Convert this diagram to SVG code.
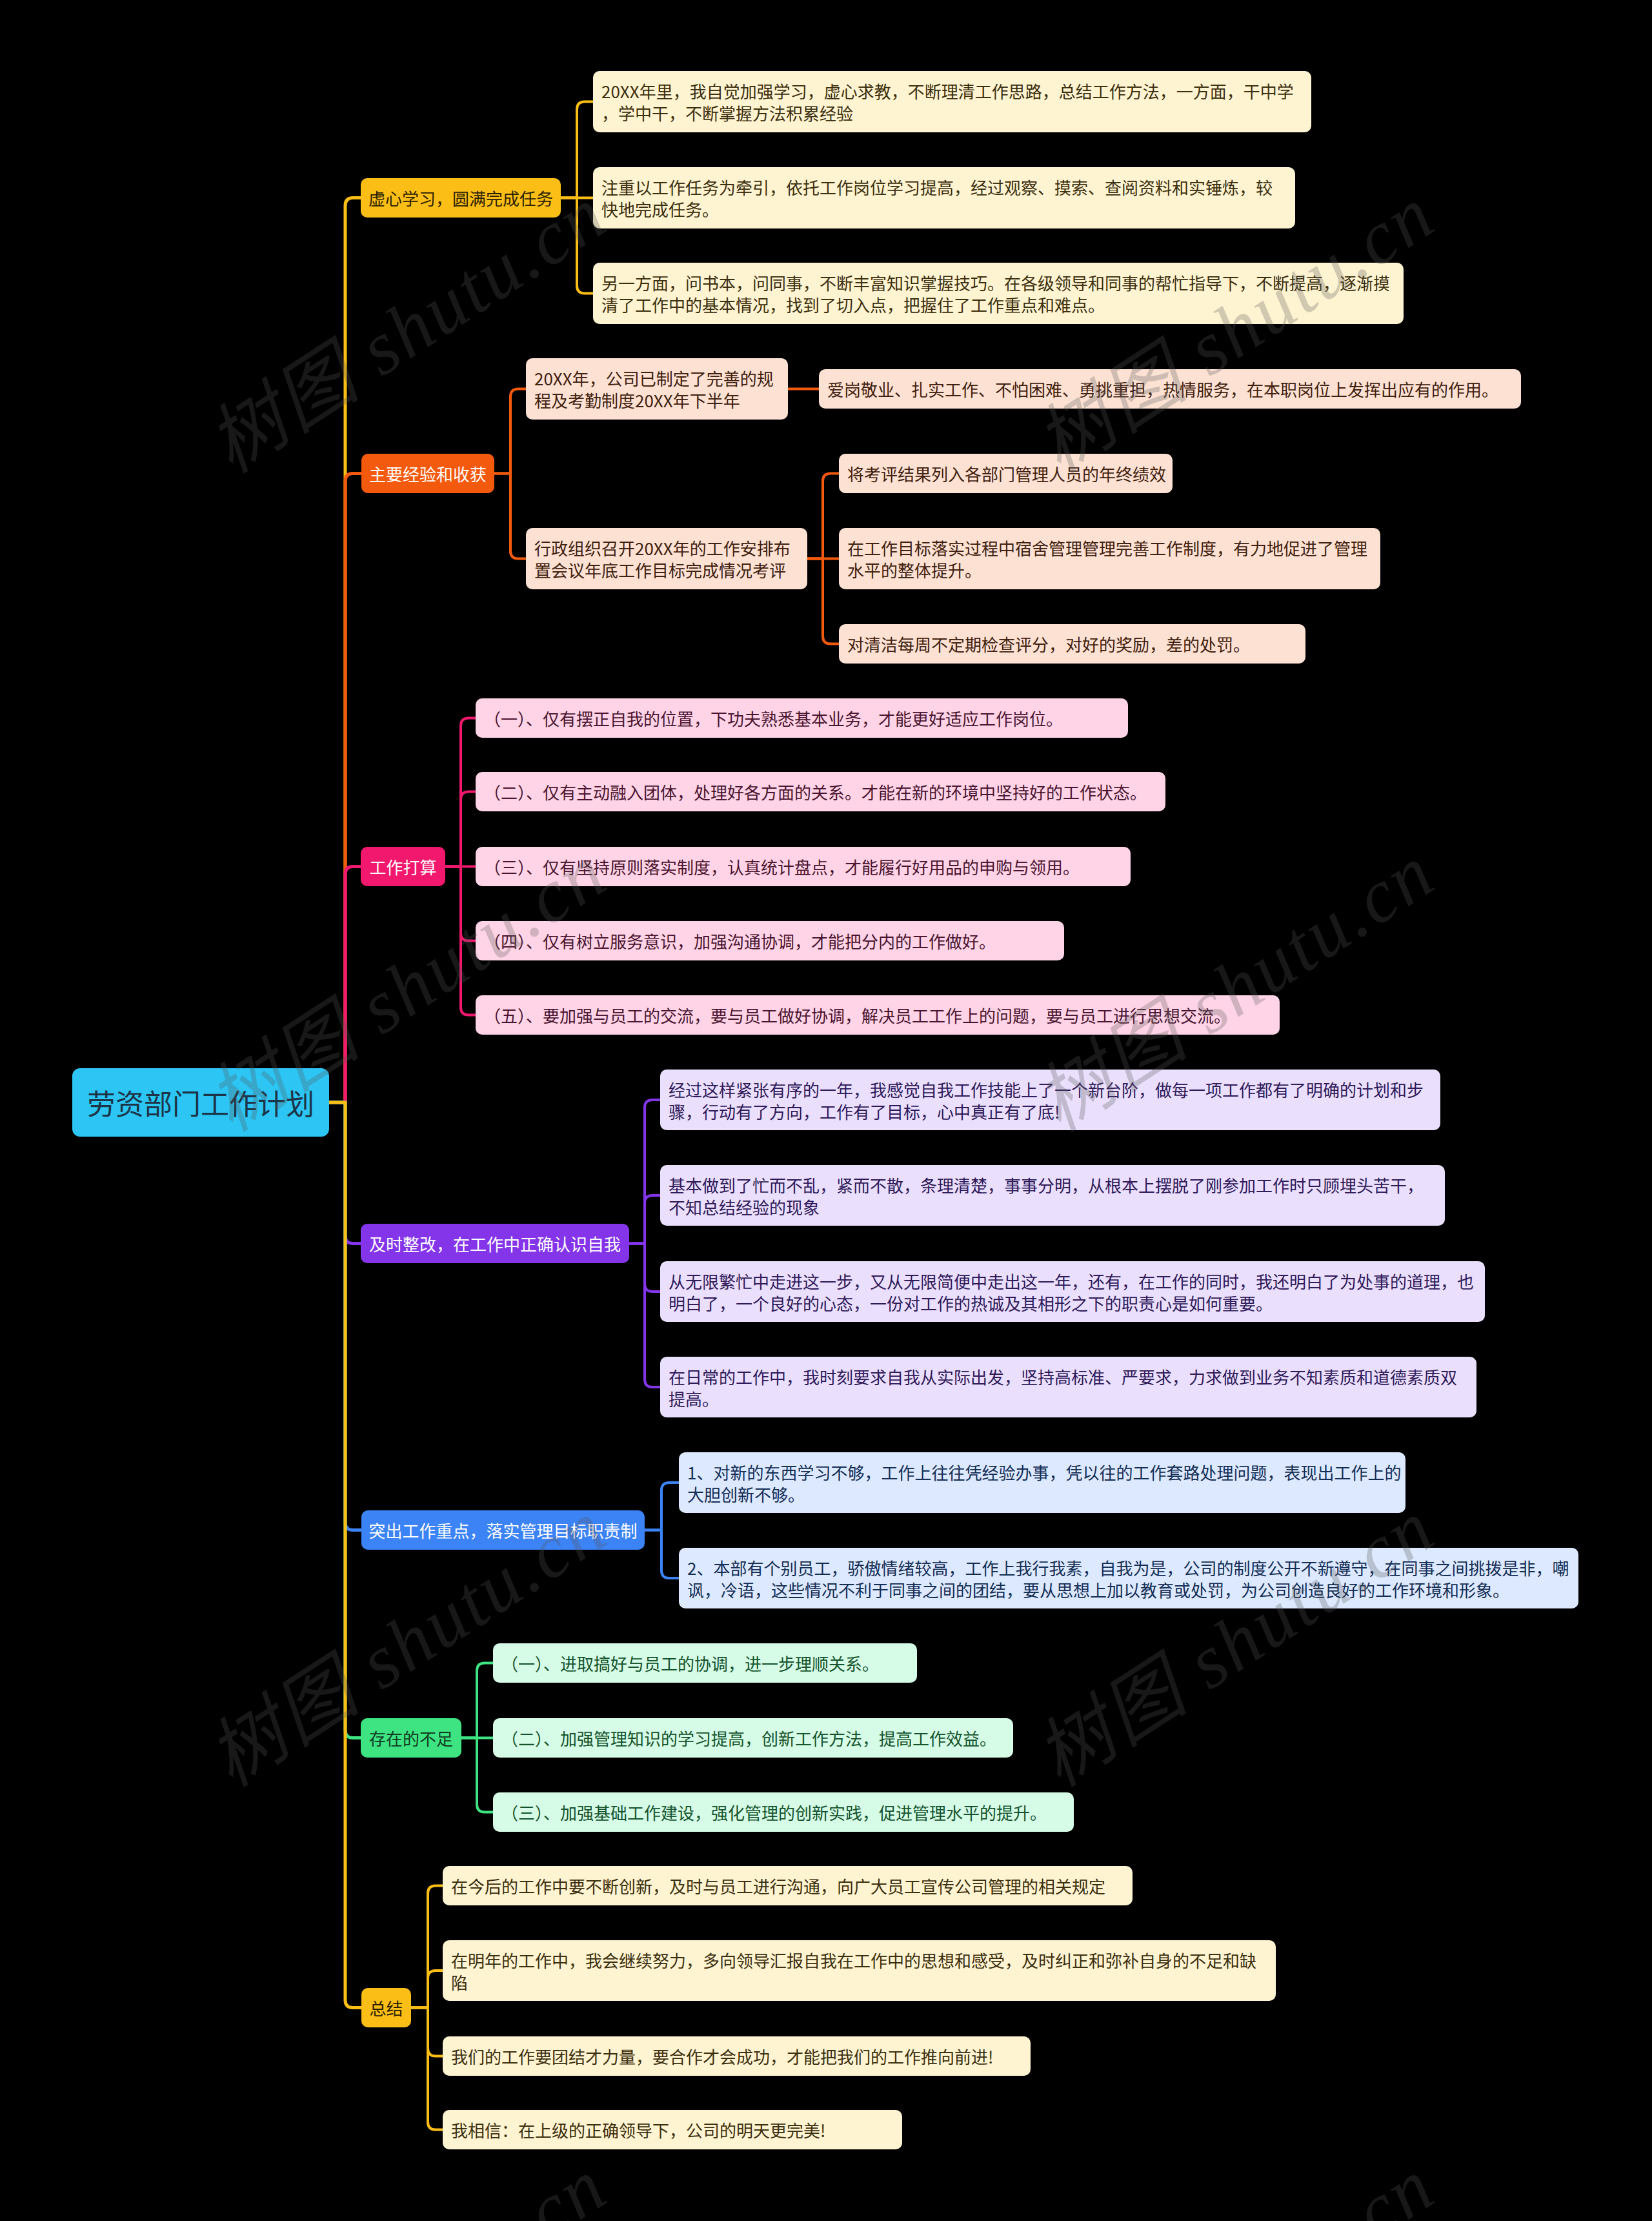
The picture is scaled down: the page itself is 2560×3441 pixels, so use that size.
<svg xmlns="http://www.w3.org/2000/svg" width="2560" height="3441" viewBox="0 0 2560 3441">
<style>
text{font-family:"Noto Sans CJK SC","Noto Sans",sans-serif;font-size:26px;dominant-baseline:central}
.c path{fill:none;stroke-linecap:round;stroke-linejoin:round}
.t1 path{stroke-width:5}
.t2 path{stroke-width:4}
.amber{stroke:#FBBE17}
.orange{stroke:#F45A0E}
.pink{stroke:#F2186E}
.purple{stroke:#8435E9}
.blue{stroke:#3C83F5}
.green{stroke:#3EE382}
.mid{text-anchor:middle}
.wm text{font-family:"Liberation Serif","Noto Sans CJK SC",serif;font-style:italic;font-size:118px;fill:#555;fill-opacity:0.28;dominant-baseline:auto}
</style>
<rect x="0" y="0" width="2560" height="3441" fill="#000"/>

<g id="connectors" class="c">
  <g class="t2 amber">
    <path d="M869,306.5 H894 V169.5 Q894,157.5 906,157.5 H919"/>
    <path d="M869,306.5 H919"/>
    <path d="M869,306.5 H894 V442.5 Q894,454.5 906,454.5 H919"/>
  </g>
  <g class="t2 orange">
    <path d="M766,733.5 H791 V614.5 Q791,602.5 803,602.5 H815"/>
    <path d="M766,733.5 H791 V853.5 Q791,865.5 803,865.5 H815"/>
    <path d="M1221,602.5 H1269"/>
    <path d="M1251,865.5 H1275 V745.5 Q1275,733.5 1287,733.5 H1300"/>
    <path d="M1251,865.5 H1300"/>
    <path d="M1251,865.5 H1275 V985.5 Q1275,997.5 1287,997.5 H1300"/>
  </g>
  <g class="t2 pink">
    <path d="M690,1342.5 H714 V1124.5 Q714,1112.5 726,1112.5 H737"/>
    <path d="M690,1342.5 H714 V1238.5 Q714,1226.5 726,1226.5 H737"/>
    <path d="M690,1342.5 H737"/>
    <path d="M690,1342.5 H714 V1445.5 Q714,1457.5 726,1457.5 H737"/>
    <path d="M690,1342.5 H714 V1560.5 Q714,1572.5 726,1572.5 H737"/>
  </g>
  <g class="t2 purple">
    <path d="M975,1926.5 H999 V1716 Q999,1704 1011,1704 H1023"/>
    <path d="M975,1926.5 H999 V1864 Q999,1852 1011,1852 H1023"/>
    <path d="M975,1926.5 H999 V1989 Q999,2001 1011,2001 H1023"/>
    <path d="M975,1926.5 H999 V2137 Q999,2149 1011,2149 H1023"/>
  </g>
  <g class="t2 blue">
    <path d="M999,2370.5 H1025 V2309 Q1025,2297 1037,2297 H1052"/>
    <path d="M999,2370.5 H1025 V2433 Q1025,2445 1037,2445 H1052"/>
  </g>
  <g class="t2 green">
    <path d="M715,2692.5 H739 V2588.5 Q739,2576.5 751,2576.5 H764"/>
    <path d="M715,2692.5 H764"/>
    <path d="M715,2692.5 H739 V2795.5 Q739,2807.5 751,2807.5 H764"/>
  </g>
  <g class="t2 amber">
    <path d="M637,3110.5 H663 V2933.5 Q663,2921.5 675,2921.5 H686"/>
    <path d="M637,3110.5 H663 V3065 Q663,3053 675,3053 H686"/>
    <path d="M637,3110.5 H663 V3173.5 Q663,3185.5 675,3185.5 H686"/>
    <path d="M637,3110.5 H663 V3287.5 Q663,3299.5 675,3299.5 H686"/>
  </g>
  <g class="t1">
    <path class="amber" d="M510,1708 H535 V318.5 Q535,306.5 547,306.5 H559"/>
    <path class="orange" d="M510,1708 H535 V745.5 Q535,733.5 547,733.5 H560"/>
    <path class="pink" d="M510,1708 H535 V1354.5 Q535,1342.5 547,1342.5 H559"/>
    <path class="purple" d="M510,1708 H535 V1914.5 Q535,1926.5 547,1926.5 H559"/>
    <path class="blue" d="M510,1708 H535 V2358.5 Q535,2370.5 547,2370.5 H560"/>
    <path class="green" d="M510,1708 H535 V2680.5 Q535,2692.5 547,2692.5 H559"/>
    <path class="amber" d="M510,1708 H535 V3098.5 Q535,3110.5 547,3110.5 H560"/>
  </g>
</g>

<g id="root">
  <rect x="112" y="1655" width="398" height="106" rx="12" fill="#2CC5F4"/>
  <text class="mid" x="311" y="1708" style="font-size:44px" fill="#1b3447">劳资部门工作计划</text>
</g>

<g id="b1">
  <rect x="559" y="276" width="310" height="61" rx="10" fill="#FBBE17"/>
  <text class="mid" x="714" y="306.5" fill="#2b2100">虚心学习，圆满完成任务</text>
</g>
<g id="b1-1">
  <rect x="919" y="110" width="1113" height="95" rx="10" fill="#FFF4D2"/>
  <text x="932" y="140.5" fill="#3b2f0e">20XX年里，我自觉加强学习，虚心求教，不断理清工作思路，总结工作方法，一方面，干中学</text>
  <text x="932" y="174.5" fill="#3b2f0e">，学中干，不断掌握方法积累经验</text>
</g>
<g id="b1-2">
  <rect x="919" y="259" width="1088" height="95" rx="10" fill="#FFF4D2"/>
  <text x="932" y="289.5" fill="#3b2f0e">注重以工作任务为牵引，依托工作岗位学习提高，经过观察、摸索、查阅资料和实锤炼，较</text>
  <text x="932" y="323.5" fill="#3b2f0e">快地完成任务。</text>
</g>
<g id="b1-3">
  <rect x="919" y="407" width="1256" height="95" rx="10" fill="#FFF4D2"/>
  <text x="932" y="437.5" fill="#3b2f0e">另一方面，问书本，问同事，不断丰富知识掌握技巧。在各级领导和同事的帮忙指导下，不断提高，逐渐摸</text>
  <text x="932" y="471.5" fill="#3b2f0e">清了工作中的基本情况，找到了切入点，把握住了工作重点和难点。</text>
</g>

<g id="b2">
  <rect x="560" y="703" width="206" height="61" rx="10" fill="#F45A0E"/>
  <text class="mid" x="663" y="733.5" fill="#ffffff">主要经验和收获</text>
</g>
<g id="b2-1">
  <rect x="815" y="555" width="406" height="95" rx="10" fill="#FDE2D4"/>
  <text x="828" y="585.5" fill="#40200e">20XX年，公司已制定了完善的规</text>
  <text x="828" y="619.5" fill="#40200e">程及考勤制度20XX年下半年</text>
</g>
<g id="b2-1-1">
  <rect x="1269" y="572" width="1088" height="61" rx="10" fill="#FDE2D4"/>
  <text x="1282" y="602.5" fill="#40200e">爱岗敬业、扎实工作、不怕困难、勇挑重担，热情服务，在本职岗位上发挥出应有的作用。</text>
</g>
<g id="b2-2">
  <rect x="815" y="818" width="436" height="95" rx="10" fill="#FDE2D4"/>
  <text x="828" y="848.5" fill="#40200e">行政组织召开20XX年的工作安排布</text>
  <text x="828" y="882.5" fill="#40200e">置会议年底工作目标完成情况考评</text>
</g>
<g id="b2-2-1">
  <rect x="1300" y="703" width="517" height="61" rx="10" fill="#FDE2D4"/>
  <text x="1313" y="733.5" fill="#40200e">将考评结果列入各部门管理人员的年终绩效</text>
</g>
<g id="b2-2-2">
  <rect x="1300" y="818" width="839" height="95" rx="10" fill="#FDE2D4"/>
  <text x="1313" y="848.5" fill="#40200e">在工作目标落实过程中宿舍管理管理完善工作制度，有力地促进了管理</text>
  <text x="1313" y="882.5" fill="#40200e">水平的整体提升。</text>
</g>
<g id="b2-2-3">
  <rect x="1300" y="967" width="723" height="61" rx="10" fill="#FDE2D4"/>
  <text x="1313" y="997.5" fill="#40200e">对清洁每周不定期检查评分，对好的奖励，差的处罚。</text>
</g>

<g id="b3">
  <rect x="559" y="1312" width="131" height="61" rx="10" fill="#F2186E"/>
  <text class="mid" x="624.5" y="1342.5" fill="#ffffff">工作打算</text>
</g>
<g id="b3-1">
  <rect x="737" y="1082" width="1011" height="61" rx="10" fill="#FFD4E6"/>
  <text x="750" y="1112.5" fill="#4a1430">（一）、仅有摆正自我的位置，下功夫熟悉基本业务，才能更好适应工作岗位。</text>
</g>
<g id="b3-2">
  <rect x="737" y="1196" width="1069" height="61" rx="10" fill="#FFD4E6"/>
  <text x="750" y="1226.5" fill="#4a1430">（二）、仅有主动融入团体，处理好各方面的关系。才能在新的环境中坚持好的工作状态。</text>
</g>
<g id="b3-3">
  <rect x="737" y="1312" width="1015" height="61" rx="10" fill="#FFD4E6"/>
  <text x="750" y="1342.5" fill="#4a1430">（三）、仅有坚持原则落实制度，认真统计盘点，才能履行好用品的申购与领用。</text>
</g>
<g id="b3-4">
  <rect x="737" y="1427" width="912" height="61" rx="10" fill="#FFD4E6"/>
  <text x="750" y="1457.5" fill="#4a1430">（四）、仅有树立服务意识，加强沟通协调，才能把分内的工作做好。</text>
</g>
<g id="b3-5">
  <rect x="737" y="1542" width="1246" height="61" rx="10" fill="#FFD4E6"/>
  <text x="750" y="1572.5" fill="#4a1430">（五）、要加强与员工的交流，要与员工做好协调，解决员工工作上的问题，要与员工进行思想交流。</text>
</g>

<g id="b4">
  <rect x="559" y="1896" width="416" height="61" rx="10" fill="#8435E9"/>
  <text class="mid" x="767" y="1926.5" fill="#ffffff">及时整改，在工作中正确认识自我</text>
</g>
<g id="b4-1">
  <rect x="1023" y="1657" width="1209" height="94" rx="10" fill="#EADFFC"/>
  <text x="1036" y="1687" fill="#2f1a5a">经过这样紧张有序的一年，我感觉自我工作技能上了一个新台阶，做每一项工作都有了明确的计划和步</text>
  <text x="1036" y="1721" fill="#2f1a5a">骤，行动有了方向，工作有了目标，心中真正有了底!</text>
</g>
<g id="b4-2">
  <rect x="1023" y="1805" width="1216" height="94" rx="10" fill="#EADFFC"/>
  <text x="1036" y="1835" fill="#2f1a5a">基本做到了忙而不乱，紧而不散，条理清楚，事事分明，从根本上摆脱了刚参加工作时只顾埋头苦干，</text>
  <text x="1036" y="1869" fill="#2f1a5a">不知总结经验的现象</text>
</g>
<g id="b4-3">
  <rect x="1023" y="1954" width="1278" height="94" rx="10" fill="#EADFFC"/>
  <text x="1036" y="1984" fill="#2f1a5a">从无限繁忙中走进这一步，又从无限简便中走出这一年，还有，在工作的同时，我还明白了为处事的道理，也</text>
  <text x="1036" y="2018" fill="#2f1a5a">明白了，一个良好的心态，一份对工作的热诚及其相形之下的职责心是如何重要。</text>
</g>
<g id="b4-4">
  <rect x="1023" y="2102" width="1265" height="94" rx="10" fill="#EADFFC"/>
  <text x="1036" y="2132" fill="#2f1a5a">在日常的工作中，我时刻要求自我从实际出发，坚持高标准、严要求，力求做到业务不知素质和道德素质双</text>
  <text x="1036" y="2166" fill="#2f1a5a">提高。</text>
</g>

<g id="b5">
  <rect x="560" y="2340" width="439" height="61" rx="10" fill="#3C83F5"/>
  <text class="mid" x="779.5" y="2370.5" fill="#ffffff">突出工作重点，落实管理目标职责制</text>
</g>
<g id="b5-1">
  <rect x="1052" y="2250" width="1126" height="94" rx="10" fill="#DCE9FE"/>
  <text x="1065" y="2280" fill="#142d55">1、对新的东西学习不够，工作上往往凭经验办事，凭以往的工作套路处理问题，表现出工作上的</text>
  <text x="1065" y="2314" fill="#142d55">大胆创新不够。</text>
</g>
<g id="b5-2">
  <rect x="1052" y="2398" width="1394" height="94" rx="10" fill="#DCE9FE"/>
  <text x="1065" y="2428" fill="#142d55">2、本部有个别员工，骄傲情绪较高，工作上我行我素，自我为是，公司的制度公开不新遵守，在同事之间挑拨是非，嘲</text>
  <text x="1065" y="2462" fill="#142d55">讽，冷语，这些情况不利于同事之间的团结，要从思想上加以教育或处罚，为公司创造良好的工作环境和形象。</text>
</g>

<g id="b6">
  <rect x="559" y="2662" width="156" height="61" rx="10" fill="#3EE382"/>
  <text class="mid" x="637" y="2692.5" fill="#0f3d1f">存在的不足</text>
</g>
<g id="b6-1">
  <rect x="764" y="2546" width="657" height="61" rx="10" fill="#D6FBE6"/>
  <text x="777" y="2576.5" fill="#14532d">（一）、进取搞好与员工的协调，进一步理顺关系。</text>
</g>
<g id="b6-2">
  <rect x="764" y="2662" width="806" height="61" rx="10" fill="#D6FBE6"/>
  <text x="777" y="2692.5" fill="#14532d">（二）、加强管理知识的学习提高，创新工作方法，提高工作效益。</text>
</g>
<g id="b6-3">
  <rect x="764" y="2777" width="900" height="61" rx="10" fill="#D6FBE6"/>
  <text x="777" y="2807.5" fill="#14532d">（三）、加强基础工作建设，强化管理的创新实践，促进管理水平的提升。</text>
</g>

<g id="b7">
  <rect x="560" y="3080" width="77" height="61" rx="10" fill="#FBBE17"/>
  <text class="mid" x="598.5" y="3110.5" fill="#2b2100">总结</text>
</g>
<g id="b7-1">
  <rect x="686" y="2891" width="1069" height="61" rx="10" fill="#FFF4D2"/>
  <text x="699" y="2921.5" fill="#3b2f0e">在今后的工作中要不断创新，及时与员工进行沟通，向广大员工宣传公司管理的相关规定</text>
</g>
<g id="b7-2">
  <rect x="686" y="3006" width="1291" height="94" rx="10" fill="#FFF4D2"/>
  <text x="699" y="3036" fill="#3b2f0e">在明年的工作中，我会继续努力，多向领导汇报自我在工作中的思想和感受，及时纠正和弥补自身的不足和缺</text>
  <text x="699" y="3070" fill="#3b2f0e">陷</text>
</g>
<g id="b7-3">
  <rect x="686" y="3155" width="911" height="61" rx="10" fill="#FFF4D2"/>
  <text x="699" y="3185.5" fill="#3b2f0e">我们的工作要团结才力量，要合作才会成功，才能把我们的工作推向前进!</text>
</g>
<g id="b7-4">
  <rect x="686" y="3269" width="712" height="61" rx="10" fill="#FFF4D2"/>
  <text x="699" y="3299.5" fill="#3b2f0e">我相信：在上级的正确领导下，公司的明天更完美!</text>
</g>

<g class="wm">
  <text transform="translate(652,545) rotate(-33)" text-anchor="middle" textLength="700" lengthAdjust="spacing">树图 shutu.cn</text>
  <text transform="translate(1935,545) rotate(-33)" text-anchor="middle" textLength="700" lengthAdjust="spacing">树图 shutu.cn</text>
  <text transform="translate(652,1565) rotate(-33)" text-anchor="middle" textLength="700" lengthAdjust="spacing">树图 shutu.cn</text>
  <text transform="translate(1935,1565) rotate(-33)" text-anchor="middle" textLength="700" lengthAdjust="spacing">树图 shutu.cn</text>
  <text transform="translate(652,2580) rotate(-33)" text-anchor="middle" textLength="700" lengthAdjust="spacing">树图 shutu.cn</text>
  <text transform="translate(1935,2580) rotate(-33)" text-anchor="middle" textLength="700" lengthAdjust="spacing">树图 shutu.cn</text>
  <text transform="translate(652,3600) rotate(-33)" text-anchor="middle" textLength="700" lengthAdjust="spacing">树图 shutu.cn</text>
  <text transform="translate(1935,3600) rotate(-33)" text-anchor="middle" textLength="700" lengthAdjust="spacing">树图 shutu.cn</text>
</g>
</svg>
